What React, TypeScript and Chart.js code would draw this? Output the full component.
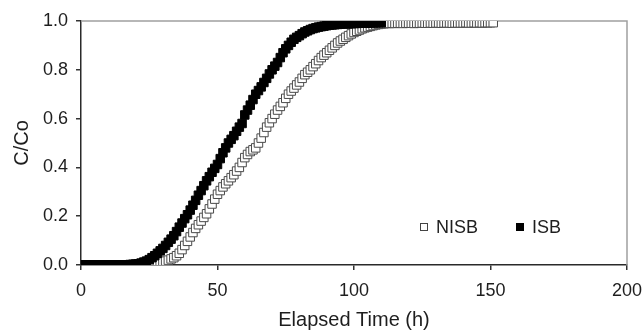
import { useEffect, useRef } from "react";
import { Chart, registerables } from "chart.js";

Chart.register(...registerables);

// Elapsed time (h) sample points
const hours = [
  0, 1, 2, 3, 4, 5, 6, 7, 8, 9, 10, 11, 12, 13, 14, 15, 16, 17, 18, 19,
  20, 21, 22, 23, 24, 25, 26, 27, 28, 29, 30, 31, 32, 33, 34, 35, 36, 37, 38, 39,
  40, 41, 42, 43, 44, 45, 46, 47, 48, 49, 50, 51, 52, 53, 54, 55, 56, 57, 58, 59,
  60, 61, 62, 63, 64, 65, 66, 67, 68, 69, 70, 71, 72, 73, 74, 75, 76, 77, 78, 79,
  80, 81, 82, 83, 84, 85, 86, 87, 88, 89, 90, 91, 92, 93, 94, 95, 96, 97, 98, 99,
  100, 101, 102, 103, 104, 105, 106, 107, 108, 109, 110, 111, 112, 113, 114, 115, 116, 117, 118, 119,
  120, 121, 122, 123, 124, 125, 126, 127, 128, 129, 130, 131, 132, 133, 134, 135, 136, 137, 138, 139,
  140, 141, 142, 143, 144, 145, 146, 147, 148, 149, 150, 151,
];

// C/Co for NISB (open squares), one value per hour 0..151
const nisbValues = [
  0, 0, 0, 0, 0, 0, 0, 0, 0, 0, 0, 0, 0, 0, 0, 0, 0, 0, 0, 0,
  0, 0, 0, 0, 0, 0.001, 0.003, 0.005, 0.007, 0.01, 0.012, 0.016, 0.02, 0.025, 0.03, 0.038, 0.048, 0.063, 0.08, 0.097,
  0.115, 0.133, 0.15, 0.165, 0.18, 0.195, 0.21, 0.23, 0.25, 0.27, 0.29, 0.305, 0.32, 0.333, 0.345, 0.358, 0.37, 0.385, 0.4, 0.42,
  0.44, 0.453, 0.465, 0.472, 0.48, 0.5, 0.52, 0.543, 0.565, 0.583, 0.6, 0.618, 0.635, 0.65, 0.665, 0.683, 0.7, 0.713, 0.725, 0.738,
  0.75, 0.765, 0.78, 0.79, 0.8, 0.813, 0.825, 0.838, 0.85, 0.86, 0.87, 0.88, 0.89, 0.9, 0.91, 0.918, 0.925, 0.933, 0.94, 0.947,
  0.953, 0.958, 0.963, 0.968, 0.972, 0.975, 0.978, 0.981, 0.984, 0.986, 0.988, 0.989, 0.99, 0.99, 0.991, 0.99, 0.991, 0.991, 0.99, 0.991,
  0.991, 0.991, 0.99, 0.991, 0.991, 0.992, 0.991, 0.991, 0.992, 0.991, 0.992, 0.992, 0.991, 0.992, 0.992, 0.992, 0.991, 0.992, 0.992, 0.992,
  0.992, 0.993, 0.992, 0.992, 0.993, 0.992, 0.993, 0.992, 0.993, 0.993, 0.993, 0.993,
];

// C/Co for ISB (filled squares), one value per hour 0..110
const isbValues = [
  0, 0, 0, 0, 0, 0, 0, 0, 0, 0, 0, 0, 0, 0, 0, 0, 0, 0, 0.002, 0.003,
  0.004, 0.005, 0.008, 0.012, 0.016, 0.022, 0.03, 0.038, 0.048, 0.058, 0.068, 0.08, 0.093, 0.106, 0.12, 0.137, 0.155, 0.172, 0.19, 0.206,
  0.225, 0.245, 0.265, 0.286, 0.305, 0.325, 0.345, 0.362, 0.38, 0.396, 0.412, 0.436, 0.46, 0.48, 0.5, 0.515, 0.53, 0.548, 0.565, 0.58,
  0.615, 0.635, 0.655, 0.678, 0.7, 0.715, 0.73, 0.748, 0.765, 0.783, 0.8, 0.815, 0.83, 0.85, 0.87, 0.886, 0.9, 0.913, 0.925, 0.933,
  0.94, 0.948, 0.955, 0.96, 0.965, 0.969, 0.972, 0.975, 0.977, 0.979, 0.981, 0.983, 0.984, 0.985, 0.986, 0.987, 0.988, 0.988, 0.989, 0.989,
  0.99, 0.99, 0.991, 0.991, 0.991, 0.992, 0.992, 0.992, 0.993, 0.993, 0.993,
];

const seriesNames = ["NISB", "ISB"];
const xTickValues = [0, 50, 100, 150, 200];
const yTickValues = [0, 0.2, 0.4, 0.6, 0.8, 1.0];
const xTitle = "Elapsed Time (h)";
const yTitle = "C/Co";

const FONT = "'Liberation Sans', Arial, sans-serif";
const TEXT = "#1e1e1e";

export default function App() {
  const ref = useRef<HTMLCanvasElement>(null);

  useEffect(() => {
    document.body.style.margin = "0";
    const canvas = ref.current;
    if (!canvas) return;

    const nisbData = nisbValues.map((v, i) => ({ x: hours[i], y: v }));
    const isbData = isbValues.map((v, i) => ({ x: hours[i], y: v }));

    const framePlugin = {
      id: "frame",
      beforeDatasetsDraw(chart: any) {
        const { ctx, chartArea } = chart;
        ctx.save();
        ctx.strokeStyle = "#a0a0a0";
        ctx.lineWidth = 1.5;
        ctx.beginPath();
        ctx.moveTo(chartArea.left, chartArea.top);
        ctx.lineTo(chartArea.right, chartArea.top);
        ctx.lineTo(chartArea.right, chartArea.bottom);
        ctx.stroke();
        ctx.restore();
      },
    };

    const legendPlugin = {
      id: "insideLegend",
      afterDraw(chart: any) {
        const { ctx } = chart;
        ctx.save();
        ctx.font = `18px ${FONT}`;
        ctx.textBaseline = "middle";
        const y = 227;
        // NISB open square
        ctx.fillStyle = "#ffffff";
        ctx.fillRect(420.5, y - 3.5, 7, 7);
        ctx.strokeStyle = "#444444";
        ctx.lineWidth = 1;
        ctx.strokeRect(420.5, y - 3.5, 7, 7);
        ctx.fillStyle = TEXT;
        ctx.fillText(seriesNames[0], 436, y + 1);
        // ISB filled square
        ctx.fillStyle = "#000000";
        ctx.fillRect(516, y - 4, 8, 8);
        ctx.fillStyle = TEXT;
        ctx.fillText(seriesNames[1], 532, y + 1);
        ctx.restore();
      },
    };

    const chart = new Chart(canvas, {
      type: "scatter",
      data: {
        datasets: [
          {
            label: seriesNames[0],
            data: nisbData,
            pointStyle: "rect",
            pointRadius: 6,
            pointBackgroundColor: "#ffffff",
            pointBorderColor: "#4a4a4a",
            pointBorderWidth: 1,
            showLine: false,
            order: 1,
          },
          {
            label: seriesNames[1],
            data: isbData,
            pointStyle: "rect",
            pointRadius: 6,
            pointBackgroundColor: "#000000",
            pointBorderColor: "#000000",
            pointBorderWidth: 1,
            showLine: false,
            order: 0,
          },
        ],
      },
      options: {
        responsive: false,
        animation: false,
        layout: { padding: { left: 0, top: 21, right: 15, bottom: 0 } },
        plugins: {
          legend: { display: false },
          tooltip: { enabled: false },
        },
        scales: {
          x: {
            type: "linear",
            min: 0,
            max: 200,
            afterFit(scale: any) {
              scale.height = 67;
              scale.paddingLeft = 0;
              scale.paddingRight = 0;
            },
            afterBuildTicks(scale: any) {
              scale.ticks = xTickValues.map((v) => ({ value: v }));
            },
            ticks: {
              color: TEXT,
              font: { family: FONT, size: 18 },
              padding: 10,
              maxRotation: 0,
              callback: (v: any) => String(v),
            },
            grid: {
              drawOnChartArea: false,
              drawTicks: true,
              tickLength: 5,
              color: "#333333",
              lineWidth: 1.5,
            },
            border: { display: true, color: "#2a2a2a", width: 1.5 },
            title: {
              display: true,
              text: xTitle,
              color: TEXT,
              font: { family: FONT, size: 20 },
              padding: { top: 0, bottom: 0 },
            },
          },
          y: {
            type: "linear",
            min: 0,
            max: 1,
            afterFit(scale: any) {
              scale.width = 81;
              scale.paddingTop = 0;
              scale.paddingBottom = 0;
            },
            afterBuildTicks(scale: any) {
              scale.ticks = yTickValues.map((v) => ({ value: v }));
            },
            ticks: {
              color: TEXT,
              font: { family: FONT, size: 18 },
              padding: 8,
              callback: (v: any) => Number(v).toFixed(1),
            },
            grid: {
              drawOnChartArea: false,
              drawTicks: true,
              tickLength: 5,
              color: "#333333",
              lineWidth: 1.5,
            },
            border: { display: true, color: "#2a2a2a", width: 1.5 },
            title: {
              display: true,
              text: yTitle,
              color: TEXT,
              font: { family: FONT, size: 20 },
              padding: { top: 10, bottom: 0 },
            },
          },
        },
      },
      plugins: [framePlugin, legendPlugin],
    });

    return () => chart.destroy();
  }, []);

  return (
    <div style={{ width: 642, height: 332 }}>
      <canvas ref={ref} width={642} height={332} style={{ display: "block" }} />
    </div>
  );
}
